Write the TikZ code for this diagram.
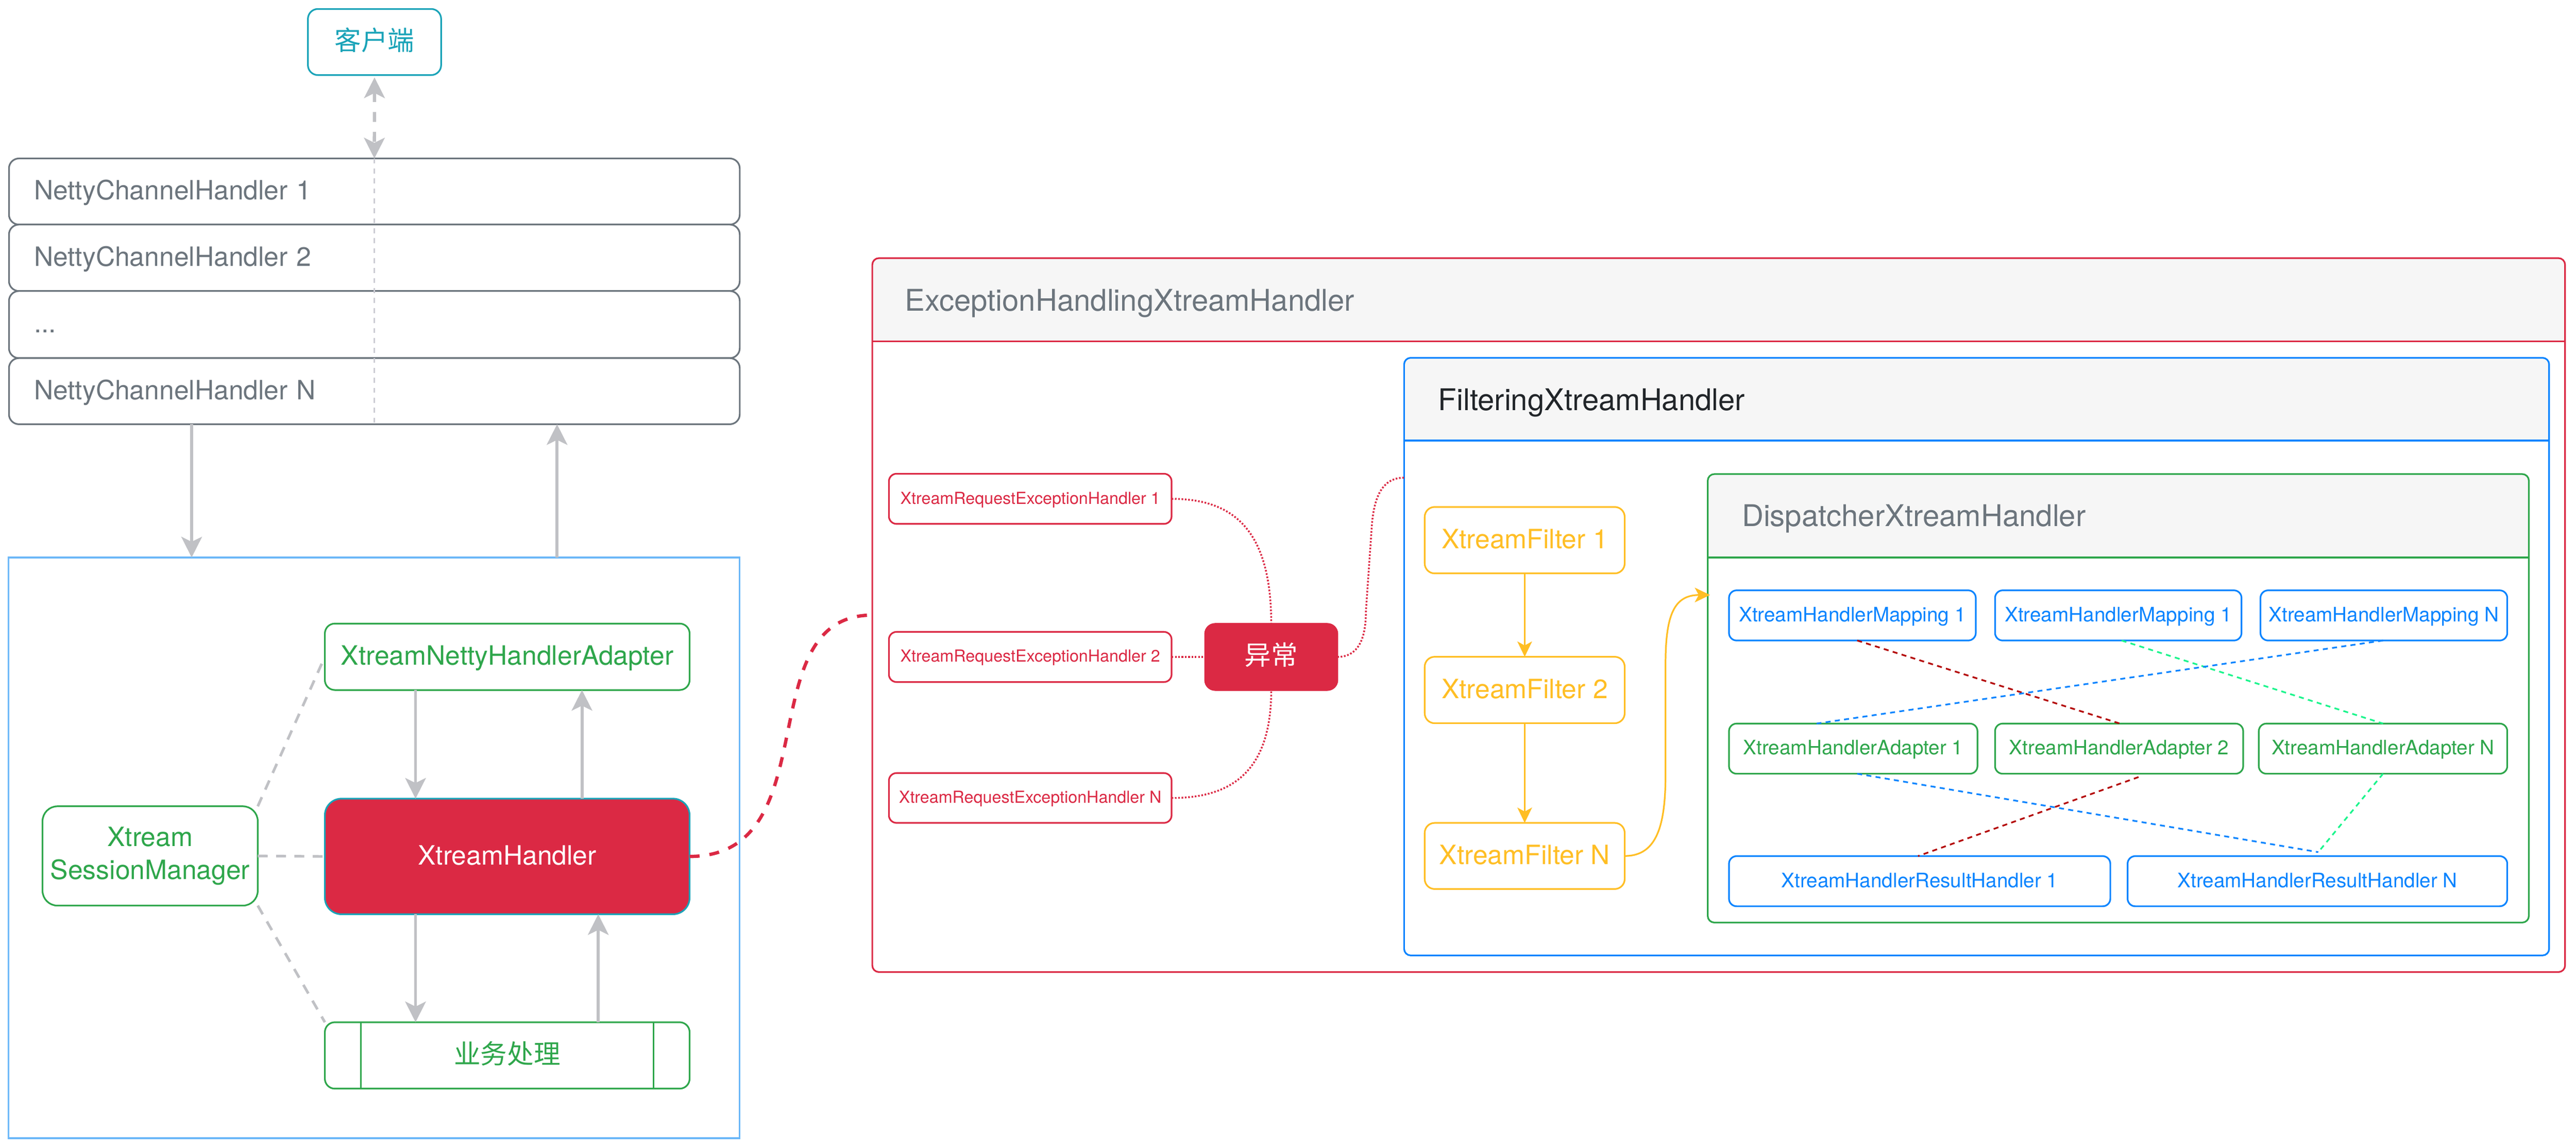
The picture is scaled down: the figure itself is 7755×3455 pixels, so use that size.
\documentclass[tikz,border=0pt]{standalone}
\usepackage{fontspec}
\setmainfont{TeX Gyre Heros}
\newfontfamily\cjk{Noto Sans CJK SC}
\usetikzlibrary{arrows.meta}
\definecolor{cred}{HTML}{DB2944}
\definecolor{cteal}{HTML}{1AA3B8}
\definecolor{cgray}{HTML}{6C757D}
\definecolor{cgreen}{HTML}{2EA64B}
\definecolor{cblue}{HTML}{0A84FF}
\definecolor{cyellow}{HTML}{FFBE24}
\definecolor{clblue}{HTML}{6CB8F8}
\definecolor{cagray}{HTML}{C0C1C5}
\definecolor{cdgray}{HTML}{CBCBD3}
\definecolor{cdred}{HTML}{B30000}
\definecolor{cspring}{HTML}{1AF58C}
\definecolor{chdr}{HTML}{F6F6F6}
\definecolor{ctitle}{HTML}{212529}

\newcommand{\mkbox}[7]{\node[#6, minimum width={(#4-#2)*0.01cm}, minimum height={(#5-#3)*0.01cm}] (#1) at ({(#2+#4)/2},{(#3+#5)/2}) {#7};}

\tikzset{
  every node/.style={inner sep=0pt, outer sep=0pt},
  bx/.style={rectangle, rounded corners=0.3cm, line width=0.05cm, fill=white},
  sbx/.style={bx, rounded corners=0.23cm},
  f80/.style={font=\fontsize{22.76}{28.2}\selectfont, text height=0.576cm, text depth=0.08cm},
  f60/.style={font=\fontsize{17.07}{21}\selectfont, text height=0.432cm, text depth=0.06cm},
  f50/.style={font=\fontsize{14.23}{17.5}\selectfont, text height=0.36cm, text depth=0.05cm},
  f90/.style={font=\fontsize{25.61}{30}\selectfont},
  cont/.style={rectangle, rounded corners=0.2cm, line width=0.05cm, fill=white,
    path picture={\fill[chdr, sharp corners] (path picture bounding box.north west) rectangle ([yshift=-2.5cm]path picture bounding box.north east);}},
  hline/.style={line width=0.05cm},
  ga/.style={draw=cagray, line width=0.09cm, -{Stealth[length=0.62cm, width=0.62cm, inset=0.15cm]}},
  ya/.style={draw=cyellow, line width=0.05cm, -{Stealth[length=0.46cm, width=0.44cm, inset=0.12cm]}},
  gd/.style={draw=cagray, line width=0.08cm, dash pattern=on 0.3cm off 0.25cm},
  rdot/.style={draw=cred, line width=0.055cm, dash pattern=on 0.05cm off 0.05cm},
  dl/.style={line width=0.05cm, dash pattern=on 0.15cm off 0.13cm},
}

\begin{document}
\begin{tikzpicture}[x=0.01cm, y=-0.01cm]
\useasboundingbox (0,0) rectangle (7755,3455);

% ---------------- left part ----------------
\mkbox{client}{927}{27}{1328}{226}{bx, draw=cteal, f80, text=cteal}{\cjk 客户端}

\mkbox{n1}{27}{477}{2227}{676}{bx, draw=cgray, f80, text=cgray, text width=20.48cm, align=left}{NettyChannelHandler 1}
\mkbox{n2}{27}{676}{2227}{876}{bx, draw=cgray, f80, text=cgray, text width=20.48cm, align=left}{NettyChannelHandler 2}
\mkbox{n3}{27}{876}{2227}{1078}{bx, draw=cgray, f80, text=cgray, text width=20.48cm, align=left}{...}
\mkbox{n4}{27}{1078}{2227}{1277}{bx, draw=cgray, f80, text=cgray, text width=20.48cm, align=left}{NettyChannelHandler N}

\draw[draw=cdgray, line width=0.05cm, dash pattern=on 0.15cm off 0.15cm] (n1.north) -- (n4.south);
\draw[draw=cagray, line width=0.1cm, dash pattern=on 0.3cm off 0.3cm,
  {Stealth[length=0.62cm, width=0.62cm, inset=0.15cm]}-{Stealth[length=0.62cm, width=0.62cm, inset=0.15cm]}]
  ([yshift=-0.07cm]client.south) -- (n1.north);

\mkbox{lb}{26}{1678}{2227}{3426}{rectangle, draw=clblue, line width=0.05cm}{}

\draw[ga] (n4.south -| 577,0) -- (lb.north -| 577,0);
\draw[ga] (lb.north -| 1677,0) -- (n4.south -| 1677,0);

\mkbox{adp}{978}{1877}{2076}{2077}{bx, draw=cgreen, f80, text=cgreen}{XtreamNettyHandlerAdapter}
\mkbox{xh}{978}{2404}{2076}{2752}{bx, rounded corners=0.5cm, draw=cteal, fill=cred, f80, text=white}{XtreamHandler}
\mkbox{biz}{978}{3077}{2076}{3277}{bx, draw=cgreen, f80, text=cgreen}{\cjk 业务处理}
\draw[cgreen, line width=0.05cm] (biz.north -| 1087,0) -- (biz.south -| 1087,0);
\draw[cgreen, line width=0.05cm] (biz.north -| 1967,0) -- (biz.south -| 1967,0);
\mkbox{sess}{128}{2427}{776}{2726}{bx, rounded corners=0.45cm, draw=cgreen, text=cgreen, align=center, font=\fontsize{22.76}{28.2}\selectfont}{Xtream\\SessionManager}

\draw[ga] (adp.south -| 1251,0) -- (xh.north -| 1251,0);
\draw[ga] (xh.north -| 1752,0) -- (adp.south -| 1752,0);
\draw[ga] (xh.south -| 1251,0) -- (biz.north -| 1251,0);
\draw[ga] (biz.north -| 1801,0) -- (xh.south -| 1801,0);

\draw[gd] (sess.north east) -- (adp.west);
\draw[gd] (sess.east) -- (xh.west);
\draw[gd] (sess.south east) -- (biz.north west);

% ---------------- exception container ----------------
\mkbox{exc}{2626}{777}{7722}{2926}{cont, draw=cred}{}
\draw[hline, cred] (exc.north west |- 0,1027) -- (exc.north east |- 0,1027);
\node[f90, text=cgray, anchor=base west] (exct) at (2725,936) {ExceptionHandlingXtreamHandler};

\draw[draw=cred, line width=0.1cm, dash pattern=on 0.3cm off 0.3cm]
  (xh.east) .. controls (2500,2577) and (2250,1852) .. (exc.west);

\mkbox{h1}{2676}{1426}{3527}{1577}{sbx, draw=cred, f50, text=cred}{XtreamRequestExceptionHandler 1}
\mkbox{h2}{2676}{1902}{3527}{2053}{sbx, draw=cred, f50, text=cred}{XtreamRequestExceptionHandler 2}
\mkbox{hN}{2676}{2327}{3527}{2477}{sbx, draw=cred, f50, text=cred}{XtreamRequestExceptionHandler N}
\mkbox{xc}{3628}{1878}{4026}{2077}{bx, draw=cred, fill=cred, f80, text=white}{\cjk 异常}

\draw[rdot] (h1.east) .. controls (3700,1502) and (3827,1580) .. (xc.north);
\draw[rdot] (h2.east) -- (xc.west);
\draw[rdot] (hN.east) .. controls (3700,2402) and (3827,2330) .. (xc.south);

% ---------------- filtering container ----------------
\mkbox{filt}{4227}{1077}{7674}{2876}{cont, draw=cblue}{}
\draw[hline, cblue] (filt.north west |- 0,1326) -- (filt.north east |- 0,1326);
\node[f90, text=ctitle, anchor=base west] (filtt) at (4330,1236) {FilteringXtreamHandler};

\draw[rdot] (xc.east) .. controls (4085,1977) and (4112,1930) .. (4112,1840)
  -- (4130,1580) .. controls (4138,1480) and (4170,1438) .. (filt.west |- 0,1438);

\mkbox{f1}{4289}{1526}{4891}{1726}{bx, draw=cyellow, f80, text=cyellow}{XtreamFilter 1}
\mkbox{f2}{4289}{1977}{4891}{2177}{bx, draw=cyellow, f80, text=cyellow}{XtreamFilter 2}
\mkbox{fN}{4289}{2477}{4891}{2676}{bx, draw=cyellow, f80, text=cyellow}{XtreamFilter N}
\draw[ya] (f1.south) -- (f2.north);
\draw[ya] (f2.south) -- (fN.north);

% ---------------- dispatcher container ----------------
\mkbox{disp}{5141}{1427}{7613}{2777}{cont, draw=cgreen}{}
\draw[hline, cgreen] (disp.north west |- 0,1678) -- (disp.north east |- 0,1678);
\node[f90, text=cgray, anchor=base west] (dispt) at (5244,1584) {DispatcherXtreamHandler};

\draw[ya] (fN.east) .. controls (4990,2577) and (5014,2480) .. (5014,2330)
  -- (5014,2000) .. controls (5014,1850) and (5040,1791) .. ([xshift=0.07cm]disp.west |- 0,1791);

\mkbox{m1}{5205}{1777}{5948}{1928}{sbx, draw=cblue, f60, text=cblue}{XtreamHandlerMapping 1}
\mkbox{m2}{6006}{1777}{6748}{1928}{sbx, draw=cblue, f60, text=cblue}{XtreamHandlerMapping 1}
\mkbox{mN}{6805}{1777}{7548}{1928}{sbx, draw=cblue, f60, text=cblue}{XtreamHandlerMapping N}
\mkbox{a1}{5205}{2178}{5953}{2329}{sbx, draw=cgreen, f60, text=cgreen}{XtreamHandlerAdapter 1}
\mkbox{a2}{6006}{2178}{6753}{2329}{sbx, draw=cgreen, f60, text=cgreen}{XtreamHandlerAdapter 2}
\mkbox{aN}{6800}{2178}{7548}{2329}{sbx, draw=cgreen, f60, text=cgreen}{XtreamHandlerAdapter N}
\mkbox{r1}{5205}{2577}{6353}{2728}{sbx, draw=cblue, f60, text=cblue}{XtreamHandlerResultHandler 1}
\mkbox{rN}{6405}{2577}{7548}{2728}{sbx, draw=cblue, f60, text=cblue}{XtreamHandlerResultHandler N}
\coordinate (rj) at (6979,2565);

\draw[dl, cdred] (m1.south -| 5591,0) -- (a2.north -| 6382,0);
\draw[dl, cspring] (m2.south -| 6387,0) -- (aN.north -| 7174,0);
\draw[dl, cblue] (mN.south -| 7174,0) -- (a1.north -| 5469,0);
\draw[dl, cblue] (a1.south -| 5591,0) -- (rj);
\draw[dl, cdred] ([yshift=-0.1cm]a2.south -| 6438,0) -- (r1.north -| 5774,0);
\draw[dl, cspring] (aN.south -| 7174,0) -- (rj);
\end{tikzpicture}
\end{document}
